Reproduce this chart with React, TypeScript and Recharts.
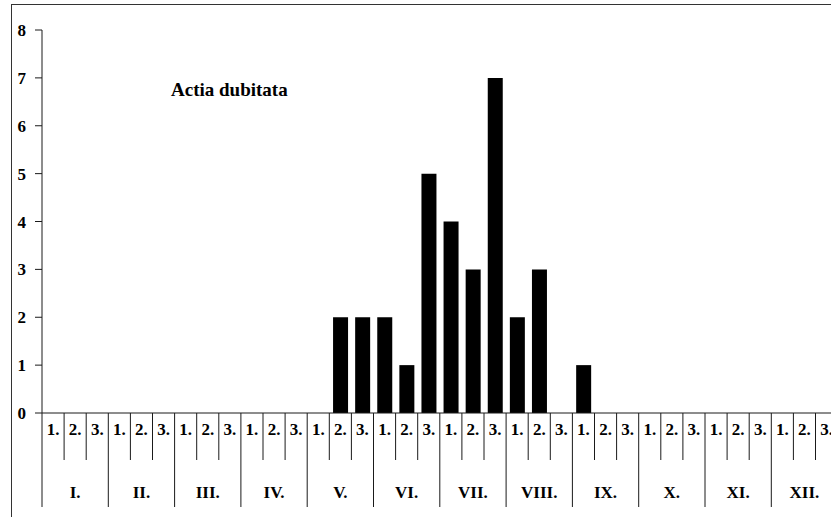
import { Bar, BarChart, XAxis, YAxis } from "recharts";

const MONTHS = ["I.", "II.", "III.", "IV.", "V.", "VI.", "VII.", "VIII.", "IX.", "X.", "XI.", "XII."];
const DECADES = ["1.", "2.", "3."];
// catches per decade, Jan.1 .. Dec.3
const COUNTS = [
  0, 0, 0,  0, 0, 0,  0, 0, 0,  0, 0, 0,
  0, 2, 2,  2, 1, 5,  4, 3, 7,  2, 3, 0,
  1, 0, 0,  0, 0, 0,  0, 0, 0,  0, 0, 0,
];
const Y_TICKS = [0, 1, 2, 3, 4, 5, 6, 7, 8];
const TITLE = "Actia dubitata";

const data = COUNTS.map((count, i) => ({
  key: `${MONTHS[Math.floor(i / 3)]}${DECADES[i % 3]}`,
  decade: DECADES[i % 3],
  month: MONTHS[Math.floor(i / 3)],
  count,
}));

const FONT = "Liberation Serif, serif";
const INK = "#1a1a1a";

// layout: the chart runs past the right edge of the picture
const CHART_W = 860;
const CHART_H = 530;
const MARGIN = { top: 30, right: 22.4, bottom: 17, left: 12 };
const Y_AXIS_W = 30;
const X_AXIS_H = 100;
const CAT_W = (CHART_W - MARGIN.left - MARGIN.right - Y_AXIS_W) / COUNTS.length;

const labelStyle = { fontFamily: FONT, fontWeight: 700, fontSize: 17 };

function DecadeTick(props: any) {
  const { x, y, index } = props;
  const row = data[index];
  if (!row) return null;
  const left = x - CAT_W / 2;
  const monthStart = index % 3 === 0;
  return (
    <g>
      <line x1={left} y1={y} x2={left} y2={y + (monthStart ? 94 : 47)} stroke={INK} strokeWidth={1} />
      <text x={x} y={y + 21.5} textAnchor="middle" style={labelStyle} fill="#000">
        {row.decade}
      </text>
      {index % 3 === 1 && (
        <text x={x} y={y + 85} textAnchor="middle" style={labelStyle} fill="#000">
          {row.month}
        </text>
      )}
    </g>
  );
}

export default function App() {
  return (
    <div style={{ position: "absolute", left: 0, top: 0, width: 831, height: 517, overflow: "hidden", background: "#fff" }}>
      <div style={{ position: "absolute", left: 11, top: 4, width: 2000, height: 2000, border: "1px solid #333" }} />
      <div style={{ position: "absolute", left: 0, top: 0 }}>
        <BarChart width={CHART_W} height={CHART_H} data={data} margin={MARGIN} barCategoryGap="17%">
          <YAxis
            type="number"
            domain={[0, 8]}
            ticks={Y_TICKS}
            width={Y_AXIS_W}
            interval={0}
            tickSize={7}
            tickMargin={9}
            axisLine={{ stroke: INK }}
            tickLine={{ stroke: INK }}
            tick={{ fill: "#000", style: labelStyle }}
          />
          <XAxis
            dataKey="key"
            type="category"
            height={X_AXIS_H}
            interval={0}
            tickSize={0}
            tickMargin={0}
            tickLine={false}
            axisLine={{ stroke: INK }}
            tick={<DecadeTick />}
          />
          <Bar dataKey="count" fill="#000" isAnimationActive={false} />
        </BarChart>
      </div>
      <svg style={{ position: "absolute", left: 0, top: 0 }} width={831} height={517}>
        <text x={171} y={96} style={{ ...labelStyle, fontSize: 19 }} fill="#000">
          {TITLE}
        </text>
      </svg>
    </div>
  );
}
